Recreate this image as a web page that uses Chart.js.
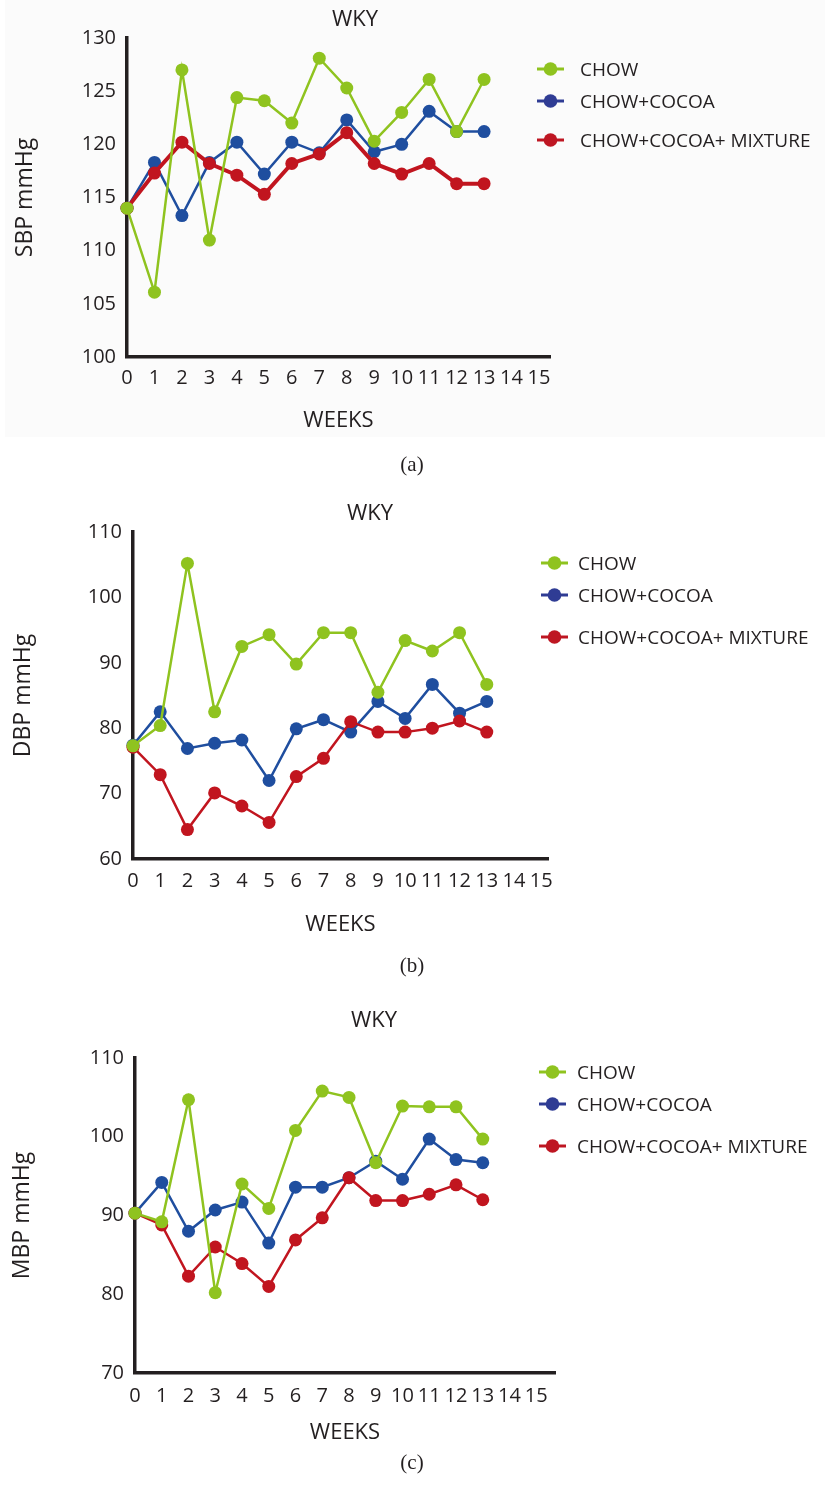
<!DOCTYPE html>
<html>
<head>
<meta charset="utf-8">
<script src="https://cdn.jsdelivr.net/npm/chart.js@4.4.1/dist/chart.umd.min.js"></script>
<style>
  body { margin: 0; background: #fff; font-family: 'Open Sans', sans-serif; }
  .panel { position: absolute; left: 0; width: 825px; }
  .panel canvas { position: absolute; left: 0; top: 0; }
  .shade { position: absolute; left: 5px; top: 0; width: 820px; height: 437px; background: #fbfbfb; }
  .legend-item { position: absolute; height: 24px; display: flex; align-items: center; font-size: 19px; color: #231f20; white-space: nowrap; }
  .legend-item svg { position: absolute; top: 5px; }
</style>
</head>
<body>
<div class="shade"></div>
<div class="panel" id="panel-a" style="top:0;height:490px"><canvas id="sbpChart"></canvas></div>
<div class="panel" id="panel-b" style="top:490px;height:500px"><canvas id="dbpChart"></canvas></div>
<div class="panel" id="panel-c" style="top:990px;height:501px"><canvas id="mbpChart"></canvas></div>
<script>
// weeks measured and axis ticks
const weeks = [0, 1, 2, 3, 4, 5, 6, 7, 8, 9, 10, 11, 12, 13];
const weekTicks = [0, 1, 2, 3, 4, 5, 6, 7, 8, 9, 10, 11, 12, 13, 14, 15];
const seriesNames = ['CHOW', 'CHOW+COCOA', 'CHOW+COCOA+ MIXTURE'];

// (a) systolic
const sbpTicks = [100, 105, 110, 115, 120, 125, 130];
const sbpChow = [114, 106.1, 127, 111, 124.4, 124.1, 122, 128.1, 125.3, 120.3, 123, 126.1, 121.2, 126.1];
const sbpCocoa = [114, 118.3, 113.3, 118.3, 120.2, 117.2, 120.2, 119.2, 122.3, 119.3, 120, 123.1, 121.2, 121.2];
const sbpMixture = [114, 117.3, 120.2, 118.2, 117.1, 115.3, 118.2, 119.1, 121.1, 118.2, 117.2, 118.2, 116.3, 116.3];

// (b) diastolic
const dbpTicks = [60, 70, 80, 90, 100, 110];
const dbpChow = [77.3, 80.4, 105.2, 82.5, 92.5, 94.3, 89.8, 94.6, 94.6, 85.5, 93.4, 91.8, 94.6, 86.7];
const dbpCocoa = [77.4, 82.5, 76.9, 77.7, 78.2, 72.0, 79.9, 81.3, 79.4, 84.1, 81.5, 86.7, 82.3, 84.1];
const dbpMixture = [77.1, 72.9, 64.5, 70.1, 68.1, 65.6, 72.6, 75.4, 81.0, 79.4, 79.4, 80.0, 81.1, 79.4];

// (c) mean
const mbpTicks = [70, 80, 90, 100, 110];
const mbpChow = [90.3, 89.2, 104.7, 80.2, 94.0, 90.9, 100.8, 105.8, 105.0, 96.7, 103.9, 103.8, 103.8, 99.7];
const mbpCocoa = [90.3, 94.2, 88.0, 90.7, 91.7, 86.5, 93.6, 93.6, 94.8, 96.9, 94.6, 99.7, 97.1, 96.7];
const mbpMixture = [90.3, 88.8, 82.3, 86.0, 83.9, 81.0, 86.9, 89.7, 94.8, 91.9, 91.9, 92.7, 93.9, 92.0];

const GREEN = '#8fc31f';
const BLUE = '#1f4e9f';
const RED = '#c1151f';
const legendColors = [GREEN, '#2f3c94', '#be1622'];
const INK = '#231f20';
const SANS = "'Open Sans', sans-serif";
const SERIF = "'Liberation Serif', serif";

// title above the plot and the (a)/(b)/(c) caption under it
const panelText = {
  id: 'panelText',
  afterDraw(chart, args, opts) {
    const ctx = chart.ctx;
    ctx.save();
    ctx.fillStyle = INK;
    ctx.textAlign = 'center';
    ctx.textBaseline = 'middle';
    ctx.font = '22px ' + SANS;
    ctx.fillText(opts.title, opts.titleX, opts.titleY);
    ctx.font = '21px ' + SERIF;
    ctx.fillText(opts.caption, opts.captionX, opts.captionY);
    ctx.restore();
  }
};

function makeDataset(label, values, color, order, width) {
  return {
    label: label,
    data: values.map((v, i) => ({ x: weeks[i], y: v })),
    borderColor: color,
    backgroundColor: color,
    pointBackgroundColor: color,
    pointBorderWidth: 0,
    pointRadius: 6.5,
    borderWidth: width,
    order: order,
    clip: false
  };
}

function addLegend(panelId, L) {
  const panel = document.getElementById(panelId);
  seriesNames.forEach((name, i) => {
    const item = document.createElement('div');
    item.className = 'legend-item';
    item.style.left = L.markerLeft + 'px';
    item.style.top = (L.rows[i] - 12) + 'px';
    item.innerHTML =
      `<svg width="28" height="14" style="left:0"><line x1="0" y1="7" x2="27" y2="7" stroke="${legendColors[i]}" stroke-width="3"/>` +
      `<circle cx="13.5" cy="7" r="6.8" fill="${legendColors[i]}"/></svg>` +
      `<span style="position:absolute;left:${L.textX - L.markerLeft}px">${name}</span>`;
    panel.appendChild(item);
  });
}

function drawPanel(canvasId, P) {
  const canvas = document.getElementById(canvasId);
  canvas.width = 825;
  canvas.height = P.height;
  const capTop = P.captionY - 12;
  new Chart(canvas, {
    type: 'line',
    data: {
      datasets: [
        makeDataset(seriesNames[0], P.chow, GREEN, 0, 2.5),
        makeDataset(seriesNames[1], P.cocoa, BLUE, 2, 2.5),
        makeDataset(seriesNames[2], P.mixture, RED, 1, P.redWidth)
      ]
    },
    plugins: [panelText],
    options: {
      responsive: false,
      animation: false,
      events: [],
      layout: { padding: { left: 0, top: P.chartTop, bottom: P.height - capTop, right: 825 - P.axisRight } },
      plugins: {
        legend: { display: false },
        tooltip: { enabled: false },
        panelText: {
          title: 'WKY', titleX: P.titleX, titleY: P.titleY,
          caption: P.caption, captionX: 412, captionY: P.captionY
        }
      },
      scales: {
        x: {
          type: 'linear',
          min: 0,
          max: P.xMax,
          grid: { display: false, drawTicks: false },
          border: { display: true, color: INK, width: 3.5 },
          ticks: { color: INK, font: { family: SANS, size: 20 }, padding: P.tickY - P.chartBottom - 11, maxRotation: 0, autoSkip: false },
          afterBuildTicks: s => { s.ticks = weekTicks.map(v => ({ value: v })); },
          afterFit: s => { s.height = capTop - P.chartBottom; },
          title: {
            display: true,
            text: 'WEEKS',
            color: INK,
            font: { family: SANS, size: 22, lineHeight: 1.2 },
            padding: { top: 0, bottom: capTop - P.weeksY - 13.2 }
          }
        },
        y: {
          min: P.yTicks[0],
          max: P.yTicks[P.yTicks.length - 1],
          grid: { display: false, drawTicks: false },
          border: { display: true, color: INK, width: 3.5 },
          ticks: { color: INK, font: { family: SANS, size: 20 }, padding: 11 },
          afterBuildTicks: s => { s.ticks = P.yTicks.map(v => ({ value: v })); },
          afterFit: s => { s.width = P.axisX; },
          title: {
            display: true,
            text: P.yTitle,
            color: INK,
            font: { family: SANS, size: 23, lineHeight: 1.2 },
            padding: { top: P.yTitleX - 13.8, bottom: 0 }
          }
        }
      }
    }
  });
  addLegend(P.panelId, P.legend);
}

drawPanel('sbpChart', {
  panelId: 'panel-a', height: 490, caption: '(a)', yTitle: 'SBP mmHg',
  chow: sbpChow, cocoa: sbpCocoa, mixture: sbpMixture, yTicks: sbpTicks, redWidth: 4,
  titleX: 355, titleY: 20, chartTop: 38, chartBottom: 357, axisX: 127, axisRight: 550, xMax: 15.4,
  tickY: 377, weeksY: 421, captionY: 465, yTitleX: 25,
  legend: { markerLeft: 537, textX: 580, rows: [69, 101, 140] }
});

drawPanel('dbpChart', {
  panelId: 'panel-b', height: 500, caption: '(b)', yTitle: 'DBP mmHg',
  chow: dbpChow, cocoa: dbpCocoa, mixture: dbpMixture, yTicks: dbpTicks, redWidth: 2.5,
  titleX: 370, titleY: 24, chartTop: 42, chartBottom: 369, axisX: 133, axisRight: 548, xMax: 15.25,
  tickY: 390, weeksY: 435, captionY: 476, yTitleX: 23,
  legend: { markerLeft: 541, textX: 578, rows: [73, 105, 147] }
});

drawPanel('mbpChart', {
  panelId: 'panel-c', height: 501, caption: '(c)', yTitle: 'MBP mmHg',
  chow: mbpChow, cocoa: mbpCocoa, mixture: mbpMixture, yTicks: mbpTicks, redWidth: 2.5,
  titleX: 374, titleY: 31, chartTop: 68, chartBottom: 383, axisX: 135, axisRight: 555, xMax: 15.7,
  tickY: 405, weeksY: 443, captionY: 473, yTitleX: 22,
  legend: { markerLeft: 539, textX: 577, rows: [82, 114, 156] }
});
</script>
</body>
</html>
